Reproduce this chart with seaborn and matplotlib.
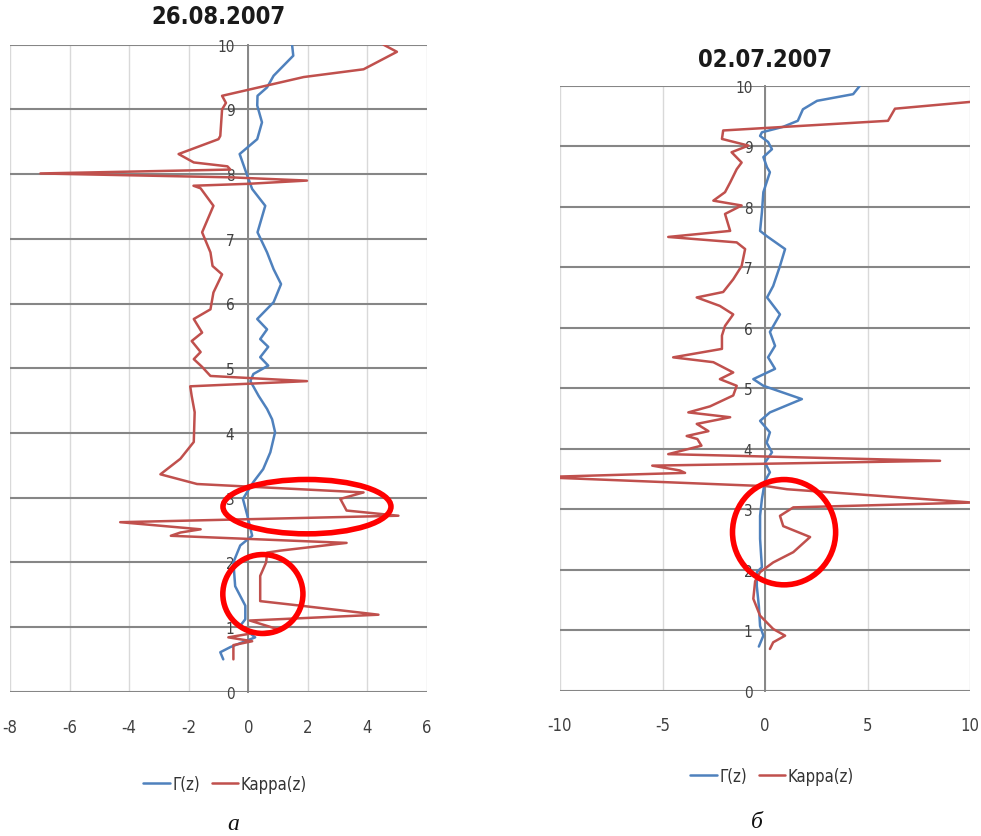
import matplotlib
matplotlib.use("Agg")
import matplotlib.pyplot as plt
from matplotlib import font_manager as fm
from matplotlib.patches import Ellipse
import seaborn as sns

# ---------------- data: panel a (26.08.2007) ----------------
z_gamma_a = [10, 9.83, 9.52, 9.34, 9.21, 9.06, 8.8, 8.54, 8.31, 7.97,
             7.77, 7.51, 7.1, 6.79, 6.53, 6.3, 6.02, 5.76, 5.6, 5.45,
             5.33, 5.17, 5.04, 4.91, 4.8, 4.57, 4.37, 4.21, 4.01, 3.7,
             3.44, 3.24, 2.98, 2.72, 2.41, 2.26, 2.0, 1.63, 1.33, 1.12,
             1.02, 0.84, 0.69, 0.61, 0.5]
gamma_a = [1.47, 1.51, 0.85, 0.63, 0.31, 0.30, 0.46, 0.30, -0.29, -0.03,
           0.13, 0.57, 0.31, 0.63, 0.85, 1.10, 0.85, 0.30, 0.63, 0.40,
           0.67, 0.40, 0.67, 0.17, 0.07, 0.35, 0.63, 0.80, 0.90, 0.74,
           0.50, 0.17, -0.18, -0.03, 0.13, -0.27, -0.50, -0.44, -0.10, -0.10,
           -0.27, 0.23, -0.60, -0.94, -0.84]

z_kappa_a = [10, 9.89, 9.62, 9.5, 9.21, 9.1, 9.0, 8.59, 8.54, 8.31,
             8.18, 8.12, 8.07, 8.01, 7.95, 7.9, 7.85, 7.82, 7.78, 7.51,
             7.1, 6.79, 6.58, 6.45, 6.17, 5.91, 5.76, 5.55, 5.42, 5.25,
             5.14, 5.02, 4.88, 4.8, 4.72, 4.57, 4.32, 3.86, 3.6, 3.36,
             3.21, 3.08, 2.98, 2.8, 2.72, 2.62, 2.51, 2.46, 2.41, 2.3,
             2.18, 2.15, 2.0, 1.79, 1.4, 1.33, 1.19, 1.1, 0.95, 0.9,
             0.84, 0.78, 0.72, 0.5]
kappa_a = [4.54, 4.99, 3.87, 1.86, -0.88, -0.75, -0.88, -0.94, -1.0, -2.34,
           -1.83, -0.7, -0.6, -6.98, -0.6, 1.97, 0.0, -1.84, -1.6, -1.17,
           -1.55, -1.27, -1.2, -0.88, -1.17, -1.27, -1.83, -1.55, -1.9, -1.6,
           -1.83, -1.55, -1.27, 1.97, -1.95, -1.9, -1.8, -1.83, -2.28, -2.95,
           -1.72, 3.87, 3.09, 3.3, 5.04, -4.3, -1.6, -2.28, -2.6, 3.3,
           1.07, 0.63, 0.6, 0.4, 0.4, 1.75, 4.37, 0.05, 1.1, 0.1,
           -0.67, 0.13, -0.5, -0.5]

# ---------------- data: panel b (02.07.2007) ----------------
z_gamma_b = [10, 9.86, 9.75, 9.61, 9.42, 9.32, 9.23, 9.17, 9.07, 8.95,
             8.82, 8.65, 8.57, 8.24, 7.91, 7.6, 7.51, 7.3, 7.02, 6.69,
             6.5, 6.22, 5.93, 5.7, 5.51, 5.32, 5.15, 5.04, 4.82, 4.6,
             4.46, 4.27, 4.1, 3.94, 3.77, 3.61, 3.47, 3.17, 2.89, 2.51,
             2.29, 2.04, 1.96, 1.73, 1.4, 1.07, 0.91, 0.73]
gamma_b = [4.63, 4.3, 2.54, 1.85, 1.6, 0.88, -0.15, -0.24, 0.15, 0.34,
           -0.08, 0.1, 0.24, -0.08, -0.15, -0.24, 0.1, 0.98, 0.73, 0.4,
           0.1, 0.73, 0.24, 0.49, 0.15, 0.49, -0.57, -0.08, 1.8, 0.24,
           -0.24, 0.24, 0.08, 0.34, 0.0, 0.24, 0.0, -0.15, -0.24, -0.24,
           -0.2, -0.15, -0.4, -0.4, -0.3, -0.24, -0.08, -0.3]

z_kappa_b = [9.75, 9.62, 9.42, 9.26, 9.12, 9.01, 8.9, 8.73, 8.62, 8.4,
             8.24, 8.1, 8.02, 7.88, 7.6, 7.5, 7.41, 7.3, 7.02, 6.8,
             6.59, 6.5, 6.36, 6.22, 6.03, 5.87, 5.65, 5.51, 5.43, 5.26,
             5.15, 5.04, 4.88, 4.7, 4.6, 4.52, 4.41, 4.29, 4.21, 4.16,
             4.05, 3.91, 3.8, 3.72, 3.64, 3.6, 3.53, 3.38, 3.33, 3.11,
             3.03, 2.89, 2.72, 2.54, 2.29, 2.12, 1.96, 1.81, 1.52, 1.24,
             1.02, 0.91, 0.8, 0.69]
kappa_b = [10.6, 6.34, 6.0, -2.04, -2.1, -0.81, -1.63, -1.14, -1.38, -1.7,
           -1.95, -2.52, -1.14, -1.95, -1.7, -4.72, -1.38, -0.97, -1.14, -1.55,
           -2.04, -3.33, -2.2, -1.55, -1.95, -2.1, -2.1, -4.48, -2.52, -1.55,
           -2.2, -1.38, -1.55, -2.68, -3.74, -1.7, -3.33, -2.76, -3.82, -3.3,
           -3.1, -4.72, 8.54, -5.5, -4.15, -3.9, -11.0, 0.1, 1.07, 10.1,
           1.38, 0.73, 0.89, 2.2, 1.38, 0.4, -0.24, -0.48, -0.57, -0.24,
           0.4, 0.98, 0.4, 0.24]

titles = ["26.08.2007", "02.07.2007"]
captions = ["а", "б"]
legend_labels = ["Γ(z)", "Kappa(z)"]
xticks_a = [-8, -6, -4, -2, 0, 2, 4, 6]
xticks_b = [-10, -5, 0, 5, 10]
yticks = list(range(0, 11))

BLUE = "#4F81BD"
RED = "#C0504D"
HGRID = "#868686"
VGRID = "#D9D9D9"

sns.set_theme(style="white")

# pick a narrow sans face if one is available
_fonts = fm.fontManager.ttflist
_names = {f.name for f in _fonts}
stretch = "normal"
if "Liberation Sans Narrow" in _names:
    family = ["Liberation Sans Narrow", "DejaVu Sans"]
elif any(f.name == "DejaVu Sans" and f.stretch in ("condensed", "semi-condensed")
         for f in _fonts):
    family = ["DejaVu Sans"]
    stretch = "condensed"
else:
    family = ["Lato", "DejaVu Sans"]
plt.rcParams["font.family"] = family
plt.rcParams["font.stretch"] = stretch
plt.rcParams["axes.unicode_minus"] = False

fig = plt.figure(figsize=(9.81, 8.37), dpi=100)
W, H = 981, 837
axA = fig.add_axes([10 / W, 1 - 692.7 / H, 417 / W, 647 / H])
axB = fig.add_axes([560 / W, 1 - 691.7 / H, 410 / W, 605 / H])


def panel(ax, zg, g, zk, k, xlim, xticks, ypad, xpad):
    ax.set_xlim(*xlim)
    ax.set_ylim(0, 10)
    ax.set_xticks(xticks)
    ax.set_yticks(yticks)
    ax.set_xticklabels([str(t) for t in xticks])
    ax.set_yticklabels([str(t) for t in yticks])
    for t in xticks:
        ax.axvline(t, color=VGRID, lw=1.0, zorder=0)
    for t in yticks:
        ax.axhline(t, color=HGRID, lw=1.5, zorder=0.5)
    sns.lineplot(x=g, y=zg, sort=False, estimator=None, color=BLUE,
                 lw=1.8, ax=ax, label=legend_labels[0], zorder=3)
    sns.lineplot(x=k, y=zk, sort=False, estimator=None, color=RED,
                 lw=1.8, ax=ax, label=legend_labels[1], zorder=3)
    for s in ["top", "right", "bottom"]:
        ax.spines[s].set_visible(False)
    ax.spines["left"].set_position(("data", 0))
    ax.spines["left"].set_color(HGRID)
    ax.spines["left"].set_linewidth(1.4)
    ax.spines["left"].set_zorder(0.6)
    ax.tick_params(axis="both", length=0, colors="#404040")
    ax.tick_params(axis="y", pad=ypad, labelsize=11)
    ax.tick_params(axis="x", pad=xpad, labelsize=12)
    ax.set_xlabel("")
    ax.set_ylabel("")
    ax.legend_.remove()
    ax.patch.set_alpha(0)


panel(axA, z_gamma_a, gamma_a, z_kappa_a, kappa_a, (-8, 6), xticks_a, 10, 19)
panel(axB, z_gamma_b, gamma_b, z_kappa_b, kappa_b, (-10, 10), xticks_b, 9, 18)

# hand-drawn red ellipses (annotation)
for ax, (cx, cz, w, h) in [(axA, (1.97, 2.86, 5.64, 0.84)),
                           (axA, (0.49, 1.51, 2.69, 1.22)),
                           (axB, (0.93, 2.62, 5.03, 1.74))]:
    ax.add_patch(Ellipse((cx, cz), w, h, fill=False, ec="#FF0000",
                         lw=4.0, zorder=5, clip_on=False))

# titles
fig.text(218 / W, 1 - 17 / H, titles[0], ha="center", va="center",
         fontsize=17, fontweight="bold", color="#1a1a1a")
fig.text(765 / W, 1 - 60 / H, titles[1], ha="center", va="center",
         fontsize=17, fontweight="bold", color="#1a1a1a")

# legends
for ax, (lx, ly) in [(axA, (225 / W, 1 - 785 / H)), (axB, (772 / W, 1 - 777 / H))]:
    h_, l_ = ax.get_legend_handles_labels()
    fig.legend(h_, l_, loc="center", bbox_to_anchor=(lx, ly), ncol=2,
               frameon=False, fontsize=12, handlelength=1.6,
               handletextpad=0.15, columnspacing=0.7,
               labelcolor="#333333")

# captions
for txt, (cx, cy) in zip(captions, [(233 / W, 1 - 825 / H), (757 / W, 1 - 823 / H)]):
    fig.text(cx, cy, txt, ha="center", va="center", fontsize=17,
             fontstyle="italic", family=["Liberation Serif", "DejaVu Serif"],
             color="#111111")

fig.savefig("out.png", dpi=100)
